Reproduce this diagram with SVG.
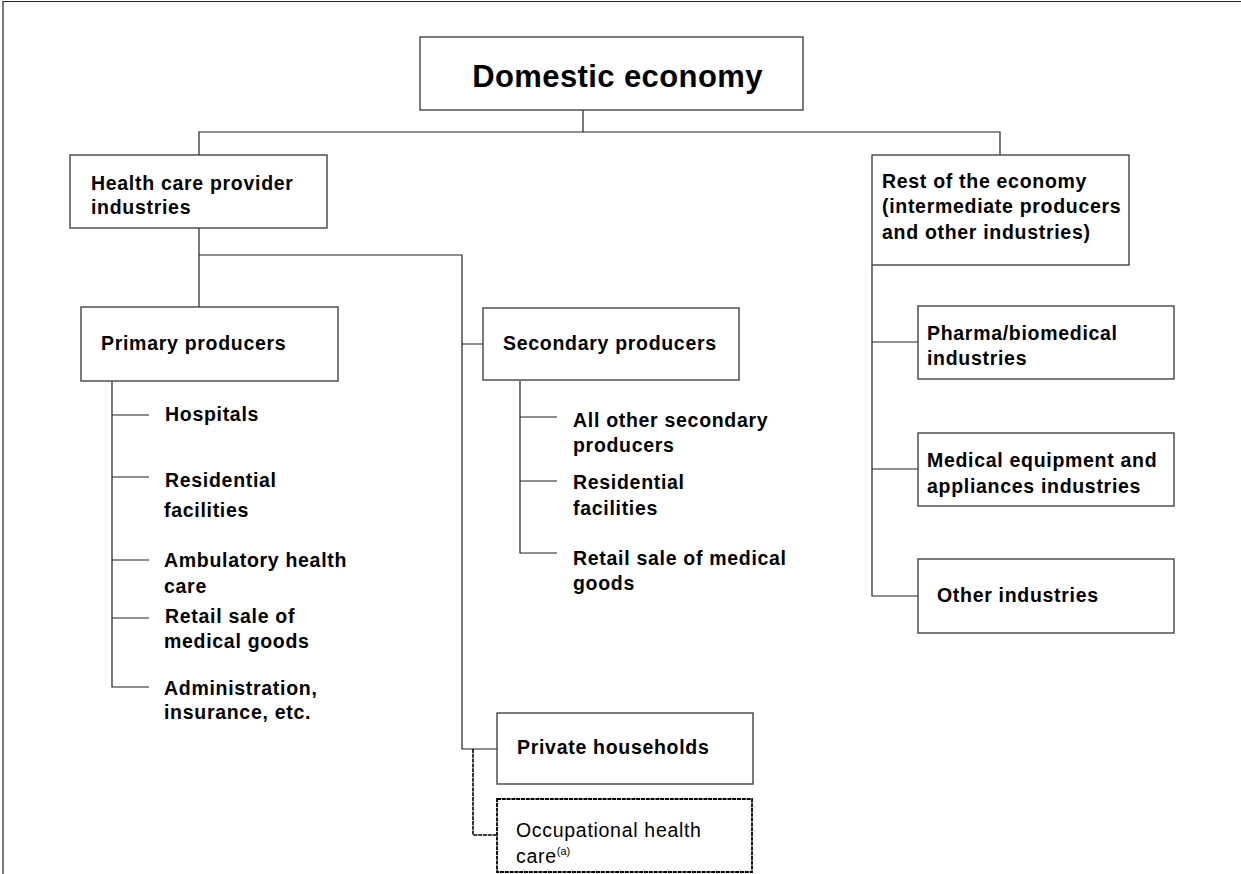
<svg xmlns="http://www.w3.org/2000/svg" width="1241" height="874" viewBox="0 0 1241 874">
<style>
.box{fill:#fff;stroke:#444;stroke-width:1.4}
.dbox{fill:#fff;stroke:#000;stroke-width:1.8;stroke-dasharray:4 0.8}
.ln{fill:none;stroke:#222;stroke-width:1.2}
.dln{fill:none;stroke:#000;stroke-width:1.6;stroke-dasharray:4 0.8}
.t{font-family:"Liberation Sans",Arial,sans-serif;font-weight:bold;font-size:19.5px;letter-spacing:0.7px;fill:#000}
.n{font-family:"Liberation Sans",Arial,sans-serif;font-size:19.5px;letter-spacing:0.7px;fill:#000}
</style>
<rect width="1241" height="874" fill="#fff"/>
<path class="ln" d="M3,874 V1.5 H1241"/>
<g id="connectors">
<path class="ln" d="M583,110 V132 M199,155 V132 H1000 V155"/>
<path class="ln" d="M199,228 V307 M199,255 H462 V749 H497 M462,344 H483"/>
<path class="dln" d="M473,749 V835 H497"/>
<path class="ln" d="M112,381 V687 H149 M112,415 H149 M112,477 H149 M112,560 H149 M112,618 H149"/>
<path class="ln" d="M520,381 V553 H557 M520,417 H557 M520,481 H557"/>
<path class="ln" d="M872,265 V596 H918 M872,342 H918 M872,469 H918"/>
</g>
<g id="domestic">
<rect class="box" x="420" y="37" width="383" height="73"/>
<text class="t" x="617.5" y="87" text-anchor="middle" style="font-size:31px;letter-spacing:0.4px">Domestic economy</text>
</g>
<g id="health-care-provider">
<rect class="box" x="70" y="155" width="257" height="73"/>
<text class="t" x="91" y="190">Health care provider</text>
<text class="t" x="91" y="214">industries</text>
</g>
<g id="rest-of-economy">
<rect class="box" x="872" y="155" width="257" height="110"/>
<text class="t" x="882" y="188">Rest of the economy</text>
<text class="t" x="882" y="213">(intermediate producers</text>
<text class="t" x="882" y="239">and other industries)</text>
</g>
<g id="primary-producers">
<rect class="box" x="81" y="307" width="257" height="74"/>
<text class="t" x="101" y="350">Primary producers</text>
</g>
<g id="primary-items">
<text class="t" x="165" y="421">Hospitals</text>
<text class="t" x="165" y="487">Residential</text>
<text class="t" x="164" y="517">facilities</text>
<text class="t" x="164" y="567">Ambulatory health</text>
<text class="t" x="164" y="593">care</text>
<text class="t" x="165" y="623">Retail sale of</text>
<text class="t" x="164" y="648">medical goods</text>
<text class="t" x="164" y="695">Administration,</text>
<text class="t" x="164" y="719">insurance, etc.</text>
</g>
<g id="secondary-producers">
<rect class="box" x="483" y="308" width="256" height="72"/>
<text class="t" x="503" y="350">Secondary producers</text>
</g>
<g id="secondary-items">
<text class="t" x="573" y="427">All other secondary</text>
<text class="t" x="573" y="452">producers</text>
<text class="t" x="573" y="489">Residential</text>
<text class="t" x="573" y="515">facilities</text>
<text class="t" x="573" y="565">Retail sale of medical</text>
<text class="t" x="573" y="590">goods</text>
</g>
<g id="private-households">
<rect class="box" x="497" y="713" width="256" height="71"/>
<text class="t" x="517" y="754">Private households</text>
</g>
<g id="occupational-health-care">
<rect class="dbox" x="497" y="799" width="255" height="73"/>
<text class="n" x="516" y="837">Occupational health</text>
<text class="n" x="516" y="863">care<tspan dy="-8" style="font-size:11px;letter-spacing:0">(a)</tspan></text>
</g>
<g id="pharma">
<rect class="box" x="918" y="306" width="256" height="73"/>
<text class="t" x="927" y="340">Pharma/biomedical</text>
<text class="t" x="927" y="365">industries</text>
</g>
<g id="medical-equipment">
<rect class="box" x="918" y="433" width="256" height="73"/>
<text class="t" x="927" y="467">Medical equipment and</text>
<text class="t" x="927" y="493">appliances industries</text>
</g>
<g id="other-industries">
<rect class="box" x="918" y="559" width="256" height="74"/>
<text class="t" x="937" y="602">Other industries</text>
</g>
</svg>
